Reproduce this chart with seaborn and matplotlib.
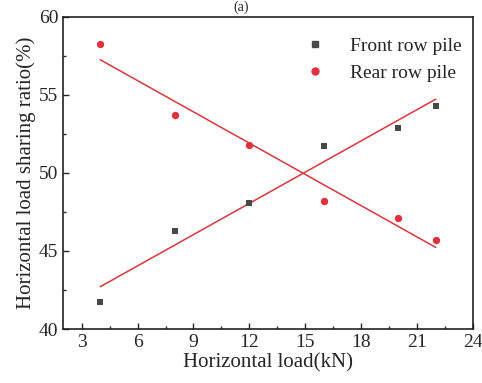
import matplotlib
matplotlib.use("Agg")
import matplotlib.pyplot as plt
import seaborn as sns
import numpy as np
from matplotlib.ticker import MultipleLocator
from matplotlib.lines import Line2D

sns.set_style("ticks")
plt.rcParams['font.family'] = ['Liberation Serif', 'DejaVu Serif']

load = [4, 8, 12, 16, 20, 22]
front = [41.7, 46.3, 48.1, 51.7, 52.9, 54.3]
rear = [58.3, 53.7, 51.8, 48.2, 47.1, 45.7]
xticks = [3, 6, 9, 12, 15, 18, 21, 24]
yticks = [40, 45, 50, 55, 60]

fig = plt.figure(figsize=(4.82, 3.83), dpi=100)
ax = fig.add_axes([63/482, 1-329/383, (473-63)/482, (329-17)/383])

red = '#e0323c'
line_red = '#d9363e'
gray = '#484848'

sns.regplot(x=load, y=front, ax=ax, ci=None, marker='s', truncate=True,
            scatter_kws=dict(s=20, color=gray, alpha=1, zorder=3, linewidths=0),
            line_kws=dict(color=line_red, lw=1.1))
sns.regplot(x=load, y=rear, ax=ax, ci=None, marker='o', truncate=True,
            scatter_kws=dict(s=28, color=red, alpha=1, zorder=3, linewidths=0),
            line_kws=dict(color=line_red, lw=1.1))

ax.set_xlim(2, 24)
ax.set_ylim(40, 60)
ax.set_xticks(xticks)
ax.set_yticks(yticks)
ax.xaxis.set_minor_locator(MultipleLocator(1.5))
ax.yaxis.set_minor_locator(MultipleLocator(2.5))
ax.tick_params(which='both', direction='in', top=False, right=False, labelsize=14)
ax.tick_params(which='major', length=4, width=1)
ax.tick_params(which='minor', length=2.5, width=1)
for s in ax.spines.values():
    s.set_visible(True)
    s.set_linewidth(1.2)
    s.set_color('#222222')

ax.set_xlabel('Horizontal load(kN)', fontsize=15, labelpad=2)
ax.set_ylabel('Horizontal load sharing ratio(%)', fontsize=15, labelpad=2)

handles = [Line2D([], [], ls='', marker='s', color=gray, markersize=4.5),
           Line2D([], [], ls='', marker='o', color=red, markersize=5)]
ax.legend(handles, ['Front row pile', 'Rear row pile'], loc='upper right',
          frameon=False, fontsize=14, handletextpad=0.8, labelspacing=0.45,
          bbox_to_anchor=(1.015, 0.99))

fig.text(0.5, 0.999, '(a)', ha='center', va='top', fontsize=10)

fig.savefig('out.png', dpi=100)
